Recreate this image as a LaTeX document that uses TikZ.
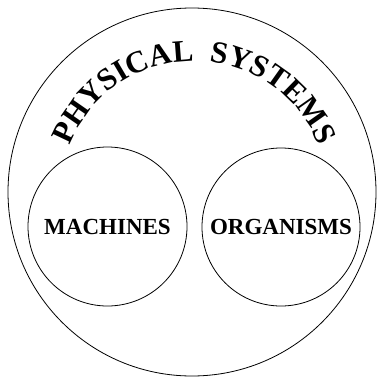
\documentclass[tikz,border=0pt]{standalone}
\usepackage{fontspec}
\setmainfont{Liberation Serif}
\usetikzlibrary{decorations.text}
\tikzset{
  ring/.style={draw=black, line width=0.8pt, circle},
  label/.style={font=\fontsize{23}{23}\selectfont\bfseries, inner sep=0pt}
}
\begin{document}
\begin{tikzpicture}[x=1pt,y=1pt]
\useasboundingbox (0,0) rectangle (377,376);
\clip (0,0) rectangle (377,376);
\node[ring, minimum size=368pt] (sys) at (192,184) {};
\node[ring, minimum size=159pt] (mach) at (107.5,149.5) {};
\node[ring, minimum size=158pt] (org) at (281,149) {};
\node[label] (machlbl) at (mach.center) {MACHINES};
\node[label] (orglbl) at (org.center) {ORGANISMS};
\coordinate (arcc) at (194,181);
\path[decorate, decoration={text along path, text align=center,
  text={|\fontsize{31}{31}\selectfont\bfseries|PHYSICAL\ \ SYSTEMS}}]
  ([shift={(162:134)}]arcc) arc[start angle=162, end angle=18, radius=134];
\end{tikzpicture}
\end{document}
